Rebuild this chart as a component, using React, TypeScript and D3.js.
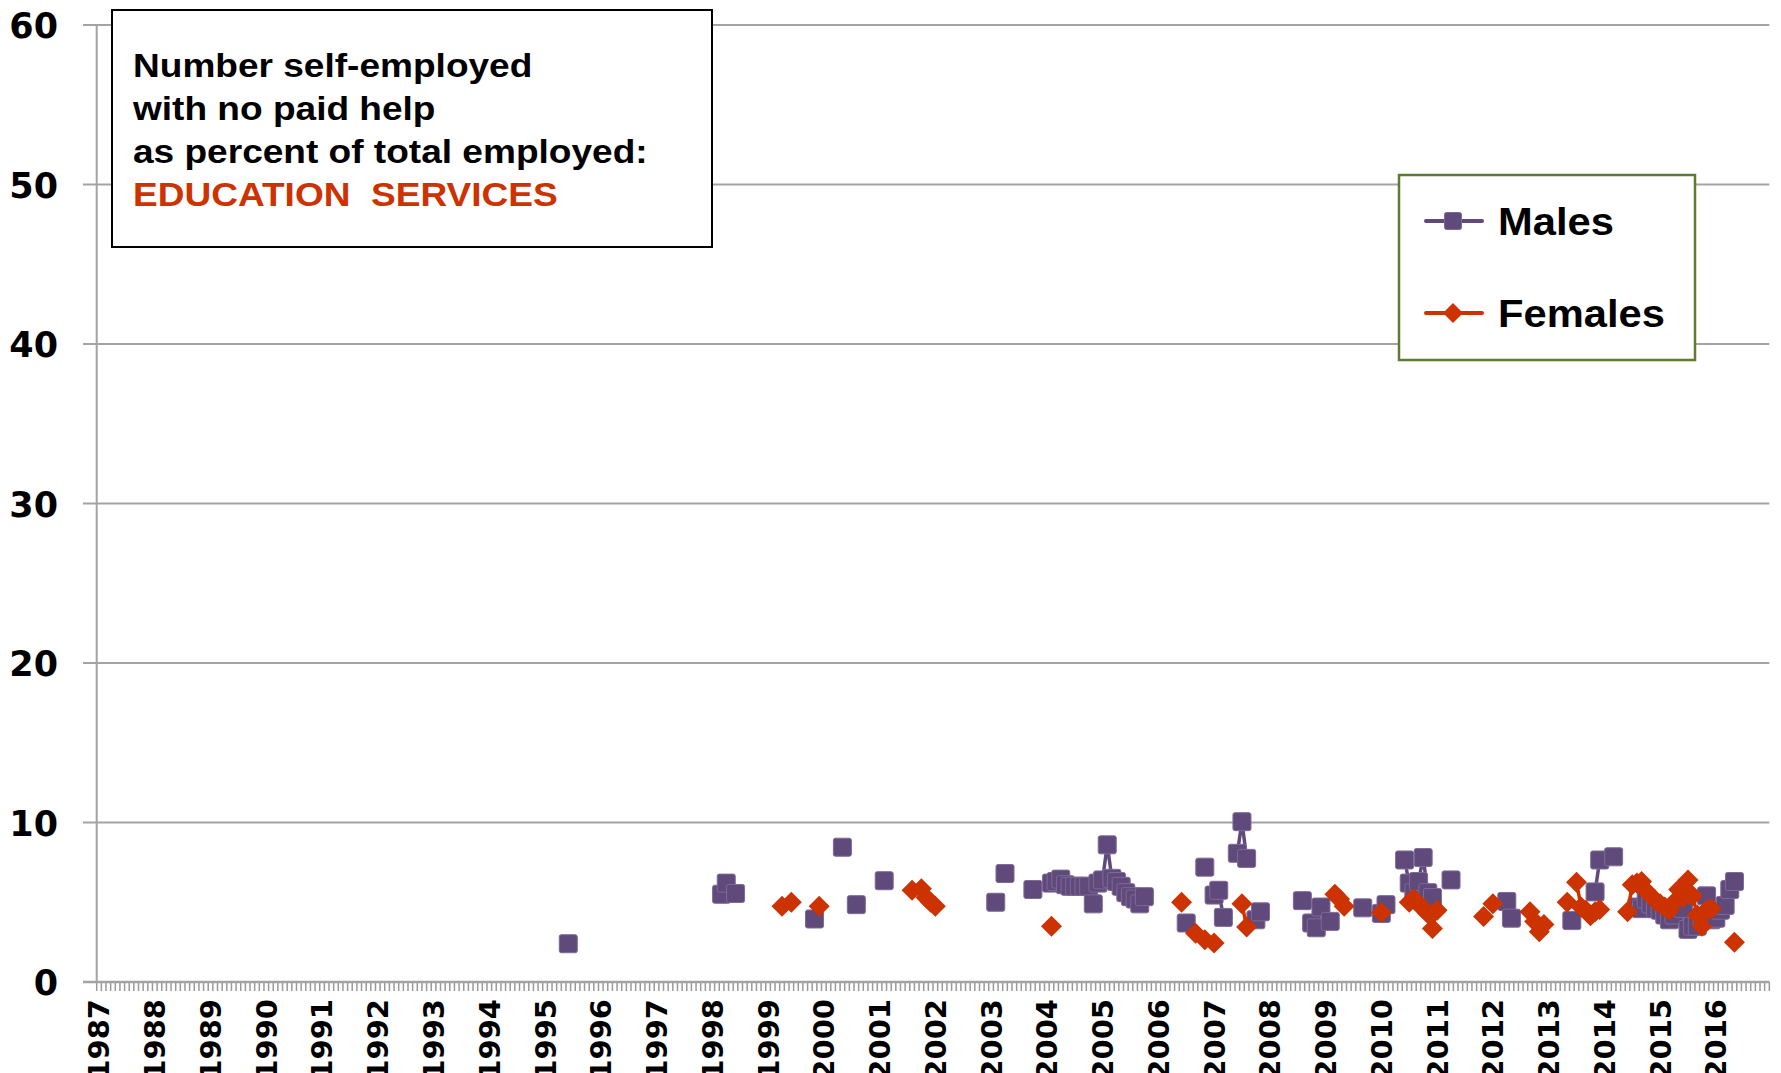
import React from 'react';
import * as d3 from 'd3';

const START_YEAR = 1987;
const N_MONTHS = 360;
const yearLabels = d3.range(1987, 2017).map(String);
const yTicks = [0, 10, 20, 30, 40, 50, 60];
const seriesNames = ['Males', 'Females'];
const titleLines = ['Number self-employed', 'with no paid help', 'as percent of total employed:'];
const titleSubject = 'EDUCATION  SERVICES';

const maleDates = [
  '1995-06', '1998-03', '1998-04', '1998-06', '1999-11', '2000-05', '2000-08', '2001-02',
  '2003-02', '2003-04', '2003-10', '2004-02', '2004-03', '2004-04', '2004-05', '2004-06',
  '2004-07', '2004-08', '2004-09', '2004-10', '2004-11', '2004-12', '2005-01', '2005-02',
  '2005-03', '2005-04', '2005-05', '2005-06', '2005-07', '2005-08', '2005-09', '2005-10',
  '2006-07', '2006-11', '2007-01', '2007-02', '2007-03', '2007-06', '2007-07', '2007-08',
  '2007-10', '2007-11', '2008-08', '2008-10', '2008-11', '2008-12', '2009-02', '2009-09',
  '2010-01', '2010-02', '2010-06', '2010-07', '2010-08', '2010-09', '2010-10', '2010-11',
  '2010-12', '2011-04', '2012-04', '2012-05', '2013-06', '2013-11', '2013-12', '2014-03',
  '2014-08', '2014-09', '2014-10', '2014-11', '2014-12', '2015-01', '2015-02', '2015-03',
  '2015-04', '2015-05', '2015-06', '2015-07', '2015-08', '2015-09', '2015-10', '2015-11',
  '2015-12', '2016-01', '2016-02', '2016-03', '2016-04', '2016-05',
];
const maleValues = [
  2.4, 5.5, 6.2, 5.55, 3.95, 8.45, 4.85, 6.35,
  5.0, 6.8, 5.8, 6.2, 6.3, 6.45, 6.1, 6.0,
  6.0, 6.0, 6.0, 6.0, 4.9, 6.2, 6.4, 8.6,
  6.5, 6.3, 6.0, 5.6, 5.35, 5.2, 4.9, 5.35,
  3.7, 7.2, 5.45, 5.75, 4.05, 8.07, 10.05, 7.75,
  3.9, 4.4, 5.1, 3.7, 3.4, 4.7, 3.8, 4.65,
  4.3, 4.85, 7.65, 6.2, 5.6, 6.3, 7.8, 5.6,
  5.3, 6.4, 5.05, 4.0, 3.85, 5.65, 7.65, 7.85,
  4.7, 4.6, 5.2, 4.9, 4.6, 4.5, 4.2, 3.9,
  4.2, 4.8, 4.6, 3.3, 3.5, 3.5, 4.1, 5.4,
  3.9, 4.0, 4.5, 4.8, 5.8, 6.3,
];

const femaleDates = [
  '1999-04', '1999-06', '1999-12', '2001-08', '2001-10', '2001-11', '2001-12', '2002-01',
  '2004-02', '2006-06', '2006-09', '2006-11', '2007-01', '2007-07', '2007-08', '2009-03',
  '2009-04', '2009-05', '2010-01', '2010-07', '2010-08', '2010-09', '2010-10', '2010-11',
  '2010-12', '2011-01', '2011-11', '2012-01', '2012-09', '2012-10', '2012-11', '2012-12',
  '2013-05', '2013-07', '2013-08', '2013-09', '2013-10', '2013-11', '2013-12', '2014-06',
  '2014-07', '2014-08', '2014-09', '2014-10', '2014-11', '2014-12', '2015-01', '2015-02',
  '2015-03', '2015-04', '2015-05', '2015-06', '2015-07', '2015-08', '2015-09', '2015-10',
  '2015-11', '2015-12', '2016-05',
];
const femaleValues = [
  4.75, 5.0, 4.75, 5.75, 5.85, 5.3, 5.0, 4.75,
  3.5, 5.0, 3.05, 2.65, 2.45, 4.9, 3.45, 5.5,
  5.2, 4.75, 4.35, 5.0, 5.2, 4.9, 4.6, 4.3,
  3.35, 4.5, 4.1, 4.9, 4.4, 3.8, 3.15, 3.6,
  5.0, 6.25, 4.7, 4.5, 4.15, 4.4, 4.55, 4.4,
  6.1, 6.2, 6.3, 5.7, 5.4, 5.1, 4.9, 4.7,
  4.5, 5.0, 5.8, 5.3, 6.4, 5.4, 4.2, 3.5,
  4.5, 4.6, 2.5,
];

const MALE_COLOR = '#604A7B';
const FEMALE_COLOR = '#CC3300';
const GRID = '#a3a3a3';
const LABEL_FONT = '"DejaVu Sans", sans-serif';
const TEXT_FONT = '"Liberation Sans", Arial, sans-serif';

function toIndex(d: string): number {
  const [yy, mm] = d.split('-').map(Number);
  return (yy - START_YEAR) * 12 + (mm - 1);
}

function buildSeries(dates: string[], values: number[]): (number | null)[] {
  const arr: (number | null)[] = new Array(N_MONTHS).fill(null);
  dates.forEach((d, k) => {
    arr[toIndex(d)] = values[k];
  });
  return arr;
}

const Square = ({ cx, cy, s }: { cx: number; cy: number; s: number }) => (
  <rect x={cx - s / 2} y={cy - s / 2} width={s} height={s} rx={2} fill={MALE_COLOR} stroke="#7d6a96" strokeWidth={1} />
);
const Diamond = ({ cx, cy, r }: { cx: number; cy: number; r: number }) => (
  <polygon points={`${cx},${cy - r} ${cx + r},${cy} ${cx},${cy + r} ${cx - r},${cy}`} fill={FEMALE_COLOR} />
);

export default function App() {
  const width = 1781;
  const height = 1073;
  const x = d3.scaleLinear().domain([0, N_MONTHS]).range([96.7, 1769.3]);
  const y = d3.scaleLinear().domain([0, 60]).range([982, 25]);

  const males = buildSeries(maleDates, maleValues);
  const females = buildSeries(femaleDates, femaleValues);

  const line = d3
    .line<number | null>()
    .defined((v) => v != null)
    .x((_, i) => x(i + 0.5))
    .y((v) => y(v as number));

  const tickIdx = d3.range(0, N_MONTHS + 1);

  return (
    <svg width={width} height={height} style={{ position: 'absolute', left: 0, top: 0, display: 'block', background: '#fff' }}>
      <rect x={0} y={0} width={width} height={height} fill="#fff" />
      {yTicks.map((t) => (
        <line key={'g' + t} x1={83} x2={1769.3} y1={y(t)} y2={y(t)} stroke={GRID} strokeWidth={2} />
      ))}
      <line x1={x(0)} x2={x(0)} y1={y(60)} y2={y(0)} stroke={GRID} strokeWidth={2} />
      {tickIdx.map((i) => (
        <line key={'t' + i} x1={x(i)} x2={x(i)} y1={y(0)} y2={y(0) + 9} stroke="#9a9a9a" strokeWidth={1.5} />
      ))}
      <line x1={83} x2={1769.3} y1={y(0)} y2={y(0)} stroke={GRID} strokeWidth={2.5} />
      {yTicks.map((t) => (
        <text key={'yl' + t} x={58} y={y(t) + 13} textAnchor="end" fontFamily={LABEL_FONT} fontWeight="bold" fontSize={35} fill="#000">
          {t}
        </text>
      ))}
      {yearLabels.map((lab, k) => (
        <text
          key={'xl' + lab}
          transform={`translate(${x(k * 12 + 0.5)},999) rotate(-90)`}
          textAnchor="end"
          dy="0.36em"
          fontFamily={LABEL_FONT}
          fontWeight="bold"
          fontSize={29}
          fill="#000"
        >
          {lab}
        </text>
      ))}
      <rect x={112} y={10} width={600} height={237} fill="#fff" stroke="#000" strokeWidth={2} />
      {titleLines.map((t, k) => (
        <text key={'tt' + k} transform={`translate(133,${77 + k * 43}) scale(1.09,1)`} fontFamily={TEXT_FONT} fontWeight="bold" fontSize={34} fill="#000">
          {t}
        </text>
      ))}
      <text transform={`translate(133,${77 + 3 * 43}) scale(1.09,1)`} fontFamily={TEXT_FONT} fontWeight="bold" fontSize={34} fill={FEMALE_COLOR} style={{ whiteSpace: 'pre' }}>
        {titleSubject}
      </text>
      <rect x={1399} y={175} width={296} height={185} fill="#fff" stroke="#5f7a32" strokeWidth={2.5} />
      <line x1={1426} x2={1482} y1={221} y2={221} stroke={MALE_COLOR} strokeWidth={4} strokeLinecap="round" />
      <Square cx={1453} cy={221} s={17} />
      <text transform="translate(1498,235) scale(1.07,1)" fontFamily={TEXT_FONT} fontWeight="bold" fontSize={39} fill="#000">
        {seriesNames[0]}
      </text>
      <line x1={1426} x2={1482} y1={313} y2={313} stroke={FEMALE_COLOR} strokeWidth={4} strokeLinecap="round" />
      <Diamond cx={1453} cy={313} r={10} />
      <text transform="translate(1498,327) scale(1.07,1)" fontFamily={TEXT_FONT} fontWeight="bold" fontSize={39} fill="#000">
        {seriesNames[1]}
      </text>
      <path d={line(males) || ''} fill="none" stroke={MALE_COLOR} strokeWidth={3.5} strokeLinejoin="round" />
      {males.map((v, i) => (v == null ? null : <Square key={'m' + i} cx={x(i + 0.5)} cy={y(v)} s={18} />))}
      <path d={line(females) || ''} fill="none" stroke={FEMALE_COLOR} strokeWidth={3.5} strokeLinejoin="round" />
      {females.map((v, i) => (v == null ? null : <Diamond key={'f' + i} cx={x(i + 0.5)} cy={y(v)} r={10.5} />))}
    </svg>
  );
}
